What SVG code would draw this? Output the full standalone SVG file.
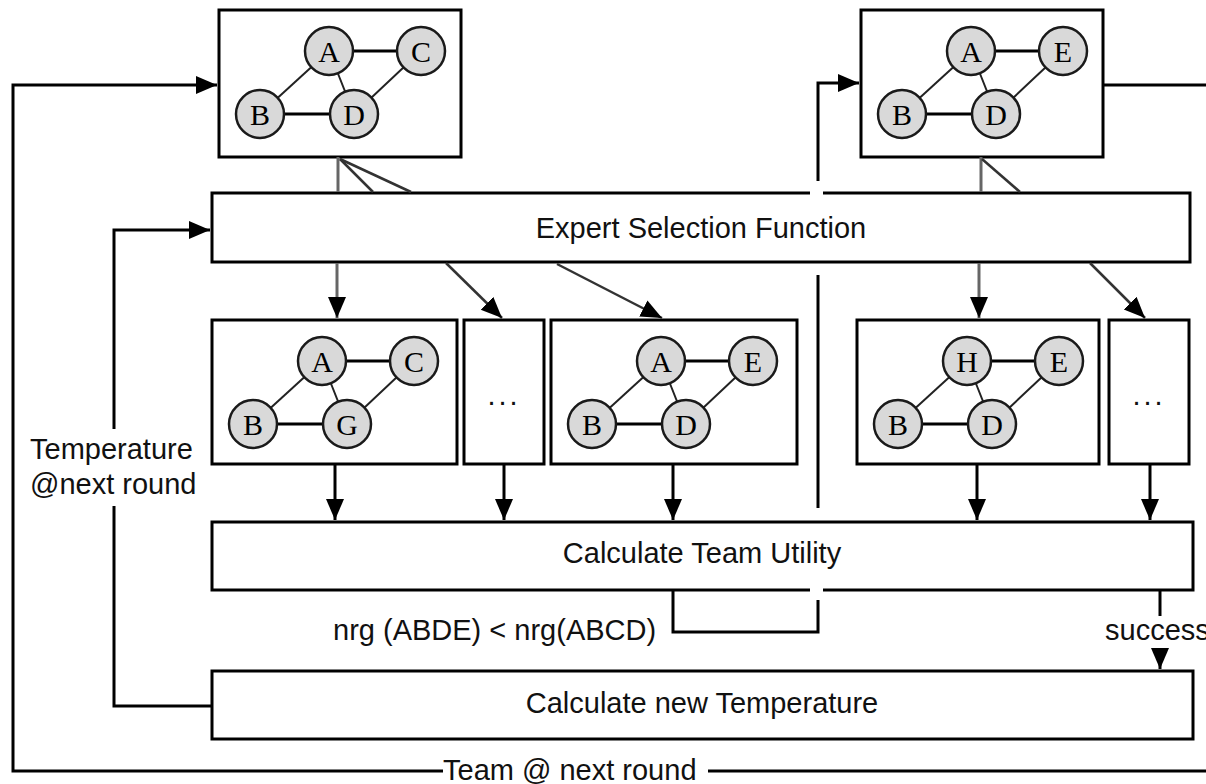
<svg xmlns="http://www.w3.org/2000/svg" width="1206" height="784" viewBox="0 0 1206 784">
<defs>
<marker id="ah" markerUnits="userSpaceOnUse" markerWidth="22" markerHeight="20" refX="21" refY="10" orient="auto">
<path d="M0,1 L21,10 L0,19 z" fill="#000"/>
</marker>
<g id="edges4">
<line class="e1" x1="110" y1="41" x2="202" y2="41"/>
<line class="e1" x1="41" y1="104" x2="135" y2="104"/>
<line class="e2" x1="110" y1="41" x2="41" y2="104"/>
<line class="e2" x1="110" y1="41" x2="135" y2="104"/>
<line class="e2" x1="202" y1="41" x2="135" y2="104"/>
<circle class="n" cx="110" cy="41" r="24"/>
<circle class="n" cx="202" cy="41" r="24"/>
<circle class="n" cx="41" cy="104" r="24"/>
<circle class="n" cx="135" cy="104" r="24"/>
</g>
</defs>
<style>
.box{fill:#fff;stroke:#000;stroke-width:3}
.n{fill:#d9d9d9;stroke:#1a1a1a;stroke-width:2.5}
.e1{stroke:#000;stroke-width:3}
.e2{stroke:#222;stroke-width:2}
.nt{font-family:"Liberation Serif","Times New Roman",serif;font-size:30px;fill:#000;text-anchor:middle}
.lb{font-family:"Liberation Sans",Arial,sans-serif;font-size:29px;fill:#111}
.mid{text-anchor:middle}
.c{fill:none;stroke:#000;stroke-width:3}
.g{fill:none;stroke:#666;stroke-width:3}
.d{fill:none;stroke:#333;stroke-width:2.5}
</style>
<rect width="1206" height="784" fill="#fff"/>

<g id="team-top-left">
<rect class="box" x="219" y="10" width="242" height="147"/>
<g transform="translate(219,10)">
<use href="#edges4"/>
<text class="nt" x="110" y="52">A</text>
<text class="nt" x="202" y="52">C</text>
<text class="nt" x="41" y="115">B</text>
<text class="nt" x="135" y="115">D</text>
</g>
</g>

<g id="team-top-right">
<rect class="box" x="861" y="10" width="242" height="147"/>
<g transform="translate(861,10)">
<use href="#edges4"/>
<text class="nt" x="110" y="52">A</text>
<text class="nt" x="202" y="52">E</text>
<text class="nt" x="41" y="115">B</text>
<text class="nt" x="135" y="115">D</text>
</g>
</g>

<g id="expert-selection">
<rect class="box" x="212" y="193" width="978" height="69"/>
<text class="lb mid" x="701" y="238">Expert Selection Function</text>
</g>

<g id="cand-1">
<rect class="box" x="212" y="320" width="245" height="144"/>
<g transform="translate(212,320)">
<use href="#edges4"/>
<text class="nt" x="110" y="52">A</text>
<text class="nt" x="202" y="52">C</text>
<text class="nt" x="41" y="115">B</text>
<text class="nt" x="135" y="115">G</text>
</g>
</g>

<g id="cand-2">
<rect class="box" x="464" y="320" width="80" height="144"/>
<text class="lb mid" x="504" y="405" letter-spacing="3">...</text>
</g>

<g id="cand-3">
<rect class="box" x="551" y="320" width="246" height="144"/>
<g transform="translate(551,320)">
<use href="#edges4"/>
<text class="nt" x="110" y="52">A</text>
<text class="nt" x="202" y="52">E</text>
<text class="nt" x="41" y="115">B</text>
<text class="nt" x="135" y="115">D</text>
</g>
</g>

<g id="cand-4">
<rect class="box" x="857" y="320" width="242" height="144"/>
<g transform="translate(857,320)">
<use href="#edges4"/>
<text class="nt" x="110" y="52">H</text>
<text class="nt" x="202" y="52">E</text>
<text class="nt" x="41" y="115">B</text>
<text class="nt" x="135" y="115">D</text>
</g>
</g>

<g id="cand-5">
<rect class="box" x="1109" y="320" width="80" height="144"/>
<text class="lb mid" x="1149" y="405" letter-spacing="3">...</text>
</g>

<g id="team-utility">
<rect class="box" x="212" y="522" width="981" height="68"/>
<text class="lb mid" x="702" y="563">Calculate Team Utility</text>
</g>

<g id="new-temperature">
<rect class="box" x="212" y="671" width="981" height="68"/>
<text class="lb mid" x="702" y="713">Calculate new Temperature</text>
</g>

<g id="connectors">
<!-- line hops -->
<line x1="810" y1="193" x2="823" y2="193" stroke="#fff" stroke-width="5"/>
<line x1="810" y1="590" x2="823" y2="590" stroke="#fff" stroke-width="5"/>
<!-- outer loop -->
<path class="c" d="M1206,771 H708"/>
<path class="c" d="M443,771 H13 V85 H217" marker-end="url(#ah)"/>
<text class="lb" x="443" y="780">Team @ next round</text>
<!-- inner loop -->
<path class="c" d="M212,706 H114 V506"/>
<path class="c" d="M114,429 V230 H210" marker-end="url(#ah)"/>
<text class="lb" x="30" y="459">Temperature</text>
<text class="lb" x="30" y="494">@next round</text>
<!-- top-right -->
<path class="c" d="M1103,85 H1206"/>
<path class="c" d="M818,181 V83 H859" marker-end="url(#ah)"/>
<path class="c" d="M818,275 V508"/>
<path class="c" d="M673,591 V632 H818 V600"/>
<text class="lb" x="333" y="640">nrg (ABDE) &lt; nrg(ABCD)</text>
<!-- success -->
<path class="c" d="M1160,591 V616"/>
<text class="lb" x="1105" y="640">success</text>
<path class="c" d="M1160,650 V669" marker-end="url(#ah)"/>
<!-- selection from top-left team -->
<path class="g" d="M338,157 V192"/>
<path class="d" d="M340,159 L373,192"/>
<path class="d" d="M340,159 L411,192"/>
<path class="g" d="M337,263 V318" marker-end="url(#ah)"/>
<path class="d" d="M446,263 L502,318" marker-end="url(#ah)"/>
<path class="d" d="M557,264 L662,318" marker-end="url(#ah)"/>
<!-- selection from top-right team -->
<path class="g" d="M981,157 V192"/>
<path class="d" d="M982,159 L1020,192"/>
<path class="g" d="M979,263 V318" marker-end="url(#ah)"/>
<path class="d" d="M1090,263 L1145,318" marker-end="url(#ah)"/>
<!-- candidates to utility -->
<path class="c" d="M335,465 V520" marker-end="url(#ah)"/>
<path class="c" d="M504,465 V520" marker-end="url(#ah)"/>
<path class="c" d="M673,465 V520" marker-end="url(#ah)"/>
<path class="c" d="M977,465 V520" marker-end="url(#ah)"/>
<path class="c" d="M1150,465 V520" marker-end="url(#ah)"/>
</g>
</svg>
